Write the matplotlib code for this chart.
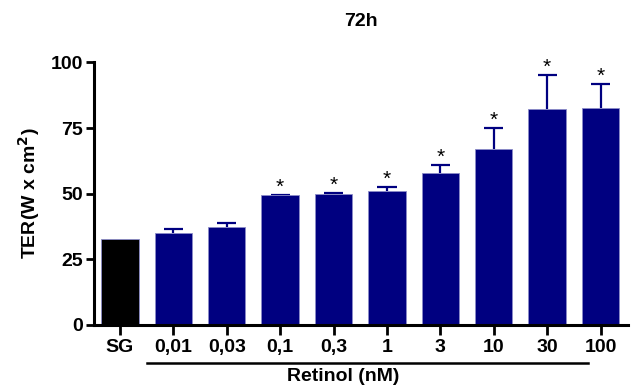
import numpy as np
import matplotlib.pyplot as plt
import matplotlib.transforms as mtransforms

plt.rcParams['font.family'] = ['Liberation Sans', 'DejaVu Sans']
plt.rcParams['font.weight'] = 'bold'

# dados
grupos = ["SG", "0,01", "0,03", "0,1", "0,3", "1", "3", "10", "30", "100"]
medias = [32.6, 35.2, 37.3, 49.5, 50.0, 51.2, 58.0, 67.0, 82.2, 82.7]
erros = [0.0, 1.5, 1.7, 0.2, 0.4, 1.5, 3.1, 8.2, 13.0, 9.1]
significativo = [False, False, False, True, True, True, True, True, True, True]

cores = ['black'] + ['#000080'] * (len(grupos) - 1)
x = np.arange(len(grupos))
topo = np.array(medias) + np.array(erros)

fig = plt.figure(figsize=(6.38, 3.88), dpi=100)
ax = fig.add_axes([0.1473, 0.1624, 0.8367, 0.6766])

ax.bar(x, medias, width=0.70, color=cores, edgecolor='#8c8cc8', linewidth=0.6, zorder=2)
# barras de erro só para cima
ax.vlines(x[1:], medias[1:], topo[1:], color='#000080', lw=1.6, zorder=1)
ax.hlines(topo[1:], x[1:] - 0.18, x[1:] + 0.18, color='#000080', lw=1.6, zorder=1)

for i in range(len(grupos)):
    if significativo[i]:
        ax.text(x[i], topo[i] - 0.8, "*", ha='center', va='bottom',
                fontsize=15, fontweight='normal')

ax.set_xlim(-0.487, 9.51)
ax.set_ylim(0, 100)
ax.set_yticks([0, 25, 50, 75, 100])
ax.set_xticks(x)
ax.set_xticklabels(grupos)

for s in ['top', 'right']:
    ax.spines[s].set_visible(False)
for s in ['left', 'bottom']:
    ax.spines[s].set_linewidth(2.2)
ax.tick_params(axis='both', labelsize=14, width=2, length=6, pad=2)
ax.tick_params(axis='x', length=7, pad=3)

ax.set_ylabel("TER(W x cm$^\\mathbf{2}$)", fontsize=14, fontweight='bold', labelpad=6)
ax.set_title("72h", fontsize=14, fontweight='bold', pad=26)

# linha abaixo dos rótulos de retinol
trans = mtransforms.blended_transform_factory(ax.transData, ax.transAxes)
ax.plot([0.5, 8.77], [-0.1436, -0.1436], color='black', lw=1.8, transform=trans, clip_on=False)
ax.text(4.18, -0.198, "Retinol (nM)", ha='center', va='center', fontsize=14,
        fontweight='bold', transform=trans)

plt.savefig("out.png", dpi=100)
